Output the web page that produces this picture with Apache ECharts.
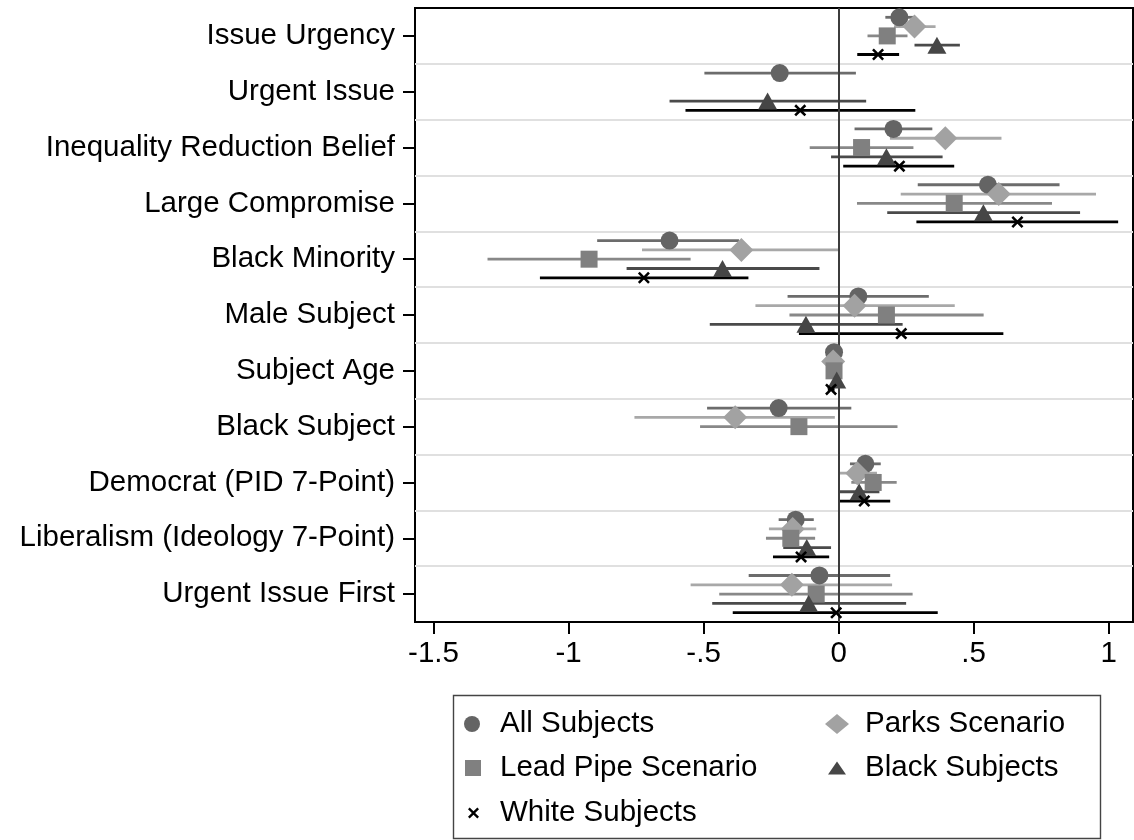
<!DOCTYPE html>
<html><head><meta charset="utf-8">
<script src="https://cdn.jsdelivr.net/npm/echarts@6/dist/echarts.min.js"></script>
<style>html,body{margin:0;padding:0;background:#fff;}#c{width:1134px;height:840px;}</style>
</head><body><div id="c"></div>
<script>
// ---- data ----
const categories = ['Issue Urgency','Urgent Issue','Inequality Reduction Belief','Large Compromise','Black Minority','Male Subject','Subject Age','Black Subject','Democrat (PID 7-Point)','Liberalism (Ideology 7-Point)','Urgent Issue First'];

const allEst = [0.225, -0.218, 0.203, 0.553, -0.626, 0.073, -0.017, -0.222, 0.099, -0.159, -0.071];
const allLo  = [0.173, -0.497, 0.059, 0.293, -0.894, -0.189, -0.027, -0.487, 0.042, -0.222, -0.333];
const allHi  = [0.277, 0.064, 0.347, 0.818, -0.369, 0.334, -0.007, 0.047, 0.156, -0.092, 0.191];

const parksEst = [0.281, null, 0.395, 0.593, -0.360, 0.059, -0.020, -0.383, 0.069, -0.170, -0.173];
const parksLo  = [0.205, null, 0.190, 0.230, -0.728, -0.308, -0.030, -0.756, 0.000, -0.258, -0.548];
const parksHi  = [0.359, null, 0.603, 0.953, 0.000, 0.430, -0.010, -0.014, 0.142, -0.083, 0.198];

const leadEst = [0.180, null, 0.085, 0.428, -0.924, 0.177, -0.017, -0.147, 0.128, -0.177, -0.083];
const leadLo  = [0.107, null, -0.107, 0.068, -1.300, -0.182, -0.030, -0.513, 0.047, -0.269, -0.442];
const leadHi  = [0.255, null, 0.277, 0.790, -0.548, 0.537, -0.005, 0.218, 0.215, -0.087, 0.274];

const blackEst = [0.364, -0.263, 0.177, 0.536, -0.430, -0.121, -0.007, null, 0.076, -0.118, -0.111];
const blackLo  = [0.281, -0.626, -0.028, 0.180, -0.785, -0.477, -0.020, null, 0.003, -0.205, -0.468];
const blackHi  = [0.449, 0.102, 0.385, 0.894, -0.071, 0.237, 0.005, null, 0.151, -0.028, 0.250];

const whiteEst = [0.146, -0.142, 0.225, 0.662, -0.721, 0.232, -0.028, null, 0.095, -0.139, -0.009];
const whiteLo  = [0.069, -0.567, 0.017, 0.288, -1.106, -0.147, -0.040, null, 0.003, -0.243, -0.392];
const whiteHi  = [0.224, 0.284, 0.428, 1.035, -0.334, 0.610, -0.015, null, 0.191, -0.035, 0.367];

const xTickValues = [-1.5, -1, -0.5, 0, 0.5, 1];
const xTickLabels = ['-1.5', '-1', '-.5', '0', '.5', '1'];

// ---- styling ----
const FONT = '"Liberation Sans", Arial, Helvetica, sans-serif';
const FS = 29.5;
const X_PATH = 'path://M0,1.5 L1.5,0 L5,3.5 L8.5,0 L10,1.5 L6.5,5 L10,8.5 L8.5,10 L5,6.5 L1.5,10 L0,8.5 L3.5,5 Z';

const groups = [
  {name:'All Subjects', est:allEst, lo:allLo, hi:allHi, off:-2/6, symbol:'circle', size:18, fill:'#646464', line:'#6c6c6c',
   lg:{left:464, top:709, w:16, h:16, pad:15}},
  {name:'Parks Scenario', est:parksEst, lo:parksLo, hi:parksHi, off:-1/6, symbol:'diamond', size:[24,24], fill:'#a2a2a2', line:'#a8a8a8',
   lg:{left:825, top:709, w:24, h:20, pad:11}},
  {name:'Lead Pipe Scenario', est:leadEst, lo:leadLo, hi:leadHi, off:0, symbol:'rect', size:17, fill:'#808080', line:'#888888',
   lg:{left:465, top:753, w:16, h:16, pad:14}},
  {name:'Black Subjects', est:blackEst, lo:blackLo, hi:blackHi, off:1/6, symbol:'triangle', size:[19,17], fill:'#464646', line:'#4a4a4a',
   lg:{left:828, top:753, w:18, h:13, pad:14}},
  {name:'White Subjects', est:whiteEst, lo:whiteLo, hi:whiteHi, off:2/6, symbol:X_PATH, size:12, fill:'#000000', line:'#000000',
   lg:{left:468, top:798, w:11, h:11, pad:16}}
];

const series = [];
// CI lines
groups.forEach(function(g, gi){
  const data = [];
  g.est.forEach(function(v, i){
    if (v === null) return;
    data.push([g.lo[i], g.hi[i], i + 0.5 + g.off]);
  });
  const s = {
    type:'custom', name: g.name + ' CI', coordinateSystem:'cartesian2d', xAxisIndex:0, yAxisIndex:1,
    encode:{x:[0,1], y:2}, z:2, silent:true,
    renderItem: function(params, api){
      const y = api.value(2);
      const p1 = api.coord([api.value(0), y]);
      const p2 = api.coord([api.value(1), y]);
      return {type:'line', shape:{x1:p1[0], y1:p1[1], x2:p2[0], y2:p2[1]}, style:{stroke:g.line, lineWidth:2.8}};
    },
    data: data
  };
  if (gi === 0) {
    s.markLine = {silent:true, symbol:'none', z:5, label:{show:false},
      lineStyle:{color:'#3c3c3c', width:2, type:'solid'}, emphasis:{disabled:true},
      data:[{xAxis:0}]};
  }
  series.push(s);
});
// point estimates
groups.forEach(function(g){
  const data = [];
  g.est.forEach(function(v, i){
    if (v === null) return;
    data.push([v, i + 0.5 + g.off]);
  });
  series.push({
    type:'scatter', name:g.name, xAxisIndex:0, yAxisIndex:1, z:6, silent:true,
    symbol:g.symbol, symbolSize:g.size, itemStyle:{color:g.fill, opacity:1},
    emphasis:{disabled:true}, data:data
  });
});

const legends = groups.map(function(g){
  return {
    data:[g.name], orient:'vertical', left:g.lg.left, top:g.lg.top, padding:0,
    itemWidth:g.lg.w, itemHeight:g.lg.h, selectedMode:false,
    textStyle:{fontFamily:FONT, fontSize:FS, color:'#000', lineHeight:30, padding:[0,0,0,g.lg.pad]}
  };
});

const chart = echarts.init(document.getElementById('c'), null, {renderer:'canvas'});
chart.setOption({
  animation:false,
  backgroundColor:'#ffffff',
  grid:{left:415, right:1, top:8, bottom:218, show:true, borderColor:'#000', borderWidth:2, backgroundColor:'transparent'},
  xAxis:[{
    type:'value', position:'bottom', offset:0, min:-1.5685, max:1.09,
    axisLine:{show:true, onZero:false, lineStyle:{color:'#000', width:2}},
    axisTick:{show:true, inside:false, customValues:xTickValues, length:12, lineStyle:{color:'#000', width:2}},
    axisLabel:{show:true, customValues:xTickValues, margin:17, fontFamily:FONT, fontSize:FS, color:'#000',
      formatter:function(v){
        let best = 0;
        xTickValues.forEach(function(t, k){ if (Math.abs(t - v) < Math.abs(xTickValues[best] - v)) best = k; });
        return xTickLabels[best];
      }},
    splitLine:{show:false}
  }],
  yAxis:[{
    type:'category', data:categories, inverse:true, position:'left', offset:1, boundaryGap:true,
    axisLine:{show:false, onZero:false},
    axisTick:{show:true, alignWithLabel:true, length:11, lineStyle:{color:'#000', width:2}},
    axisLabel:{margin:19, fontFamily:FONT, fontSize:FS, color:'#000'},
    splitLine:{show:false}
  },{
    type:'value', min:0, max:11, interval:1, inverse:true, position:'left',
    axisLine:{show:false, onZero:false}, axisTick:{show:false}, axisLabel:{show:false},
    splitLine:{show:true, showMinLine:false, showMaxLine:false, lineStyle:{color:'#e0e0e0', width:2}}
  }],
  legend: legends,
  graphic:[{type:'rect', silent:true, shape:{x:453.5, y:695.5, width:647, height:143}, style:{fill:'none', stroke:'#444', lineWidth:1.4}}],
  series: series
});
</script>
</body></html>
